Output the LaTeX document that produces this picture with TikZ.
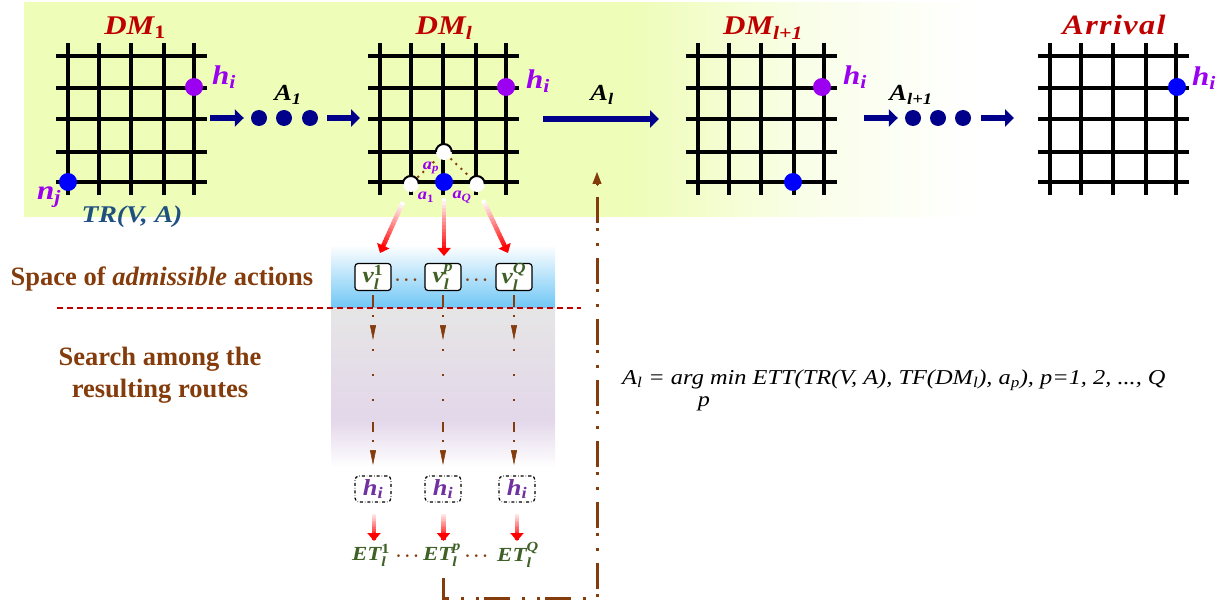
\documentclass[tikz,border=0pt]{standalone}
\usepackage{amsmath}
\usepackage{fontspec}
\setmainfont{Liberation Serif}[FakeStretch=1.15]
\newfontfamily\headfont{Liberation Serif}
\usetikzlibrary{arrows.meta,calc}
\definecolor{leaf}{HTML}{EEFDB8}
\definecolor{leafpale}{HTML}{F9FEE8}
\definecolor{navy}{HTML}{00008B}
\definecolor{rust}{HTML}{843C0C}
\definecolor{violet}{HTML}{9B00F0}
\definecolor{plum}{HTML}{7030A0}
\definecolor{moss}{HTML}{3F6026}
\definecolor{crimson}{HTML}{C00000}
\definecolor{sky}{HTML}{6EC6F5}
\definecolor{steel}{HTML}{1F5080}
\definecolor{mist}{HTML}{E3D7EA}
\pgfdeclarehorizontalshading{leaffade}{100bp}{color(0bp)=(leaf); color(57bp)=(leaf); color(66bp)=(leafpale); color(75bp)=(white); color(100bp)=(white)}
\newcommand{\bi}[1]{\text{\bfseries\itshape #1}}
\newcommand{\bn}[1]{\text{\bfseries #1}}
\newcommand{\fadearrow}[2]{%
  \foreach \s in {0,...,15}
    \draw[red!\fpeval{\s*100/15}!white, line width=4.5pt]
      ($(#1)!{\s/17}!(#2)$) -- ($(#1)!{(\s+1.2)/17}!(#2)$);
  \draw[red, line width=4.5pt, -{Triangle[width=13pt,length=8pt]}] ($(#1)!.9!(#2)$) -- (#2);
}
\begin{document}
\begin{tikzpicture}[x=1pt, y=-1pt,
title/.style ={inner sep = 0pt, text = crimson, font = \fontsize{27}{30}\selectfont},
blockarrow/.style ={navy, line width = 6.5pt, -{Triangle[width=17pt,length=9pt]}},
busdot/.style ={circle, fill = navy, inner sep = 0pt, minimum size = 16pt},
stopdot/.style ={circle, fill = blue, inner sep = 0pt, minimum size = 18pt},
goaldot/.style ={circle, fill = violet, inner sep = 0pt, minimum size = 18pt},
hole/.style ={circle, fill = white, inner sep = 0pt, minimum size = 16pt},
vbox/.style ={draw, fill = white, rounded corners = 3pt, line width = 1.2pt, minimum width = 36pt, minimum height = 27pt, inner sep = 0pt, text = moss, font = \fontsize{22}{24}\selectfont},
hbox/.style ={draw, rounded corners = 4pt, dash dot, line width = 1.2pt, minimum width = 36pt, minimum height = 26pt, inner sep = 0pt, text = plum, font = \fontsize{23}{25}\selectfont},
etnode/.style ={inner sep = 0pt, text = moss, font = \fontsize{20}{22}\selectfont},
goal/.style ={inner sep = 0pt, text = violet, font = \fontsize{27}{30}\selectfont},
act/.style ={inner sep = 0pt, text = violet, font = \fontsize{16}{18}\selectfont},
actname/.style ={inner sep = 0pt, font = \fontsize{23}{26}\selectfont},
dotsnode/.style ={inner sep = 0pt, text = rust, font = \fontsize{19}{21}\selectfont\boldmath},
thinflow/.style ={rust, line width = 2pt, dash pattern = on 12pt off 8pt on 2pt off 32pt on 2pt off 23pt on 2pt off 23pt on 2pt off 21pt on 10pt off 8pt on 2pt off 40pt},
thintip/.style ={rust, line width = .6pt, -{Triangle[width=6pt,length=15pt]}},
backflow/.style ={rust, line width = 3pt, dash pattern = on 26pt off 12pt on 3pt off 12pt on 3pt off 5pt},
heading/.style ={inner sep = 0pt, text = rust, align = center, font = \fontsize{26.5}{32}\selectfont\headfont\bfseries}]
\useasboundingbox (0,0) rectangle (1229,604);

% backgrounds
\shade[shading = leaffade] (24,3) rectangle (975,217);
\shade[top color = white, bottom color = sky] (331,245) rectangle (555,308);
\shade[top color = black!10, bottom color = mist] (331,308) rectangle (555,420);
\shade[top color = mist, bottom color = white] (331,420) rectangle (555,467);
\draw[red!75!black, line width = 1.2pt, dash pattern = on 6pt off 4pt] (57,308) -- (581,308);

% grids
\foreach \gx in {56,368,685.5,1038} {
  \foreach \gy in {56,88,119,152,182}
    \draw[line width = 4pt] (\gx,\gy) -- (\gx+151,\gy);
  \foreach \dx in {12,43,75,108,138}
    \draw[line width = 4pt] (\gx+\dx,43) -- (\gx+\dx,195);
}

\node[title] (DMa) at (135,28) {$\bi{DM}_{\bn{1}}$};
\node[title] (DMb) at (444,28) {$\bi{DM}_{\bi{l}}$};
\node[title] (DMc) at (763,28) {$\bi{DM}_{\bi{l+1}}$};
\node[title] (DMd) at (1114,25) {\fontsize{28}{30}\selectfont\addfontfeature{LetterSpace=5}\bfseries\itshape Arrival};

\node[stopdot] (nj) at (68,182) {};
\node[goaldot] (ha) at (194,87) {};
\node[goaldot] (hb) at (506,87) {};
\node[goaldot] (hc) at (822,87) {};
\node[stopdot] (hd) at (1177,87) {};
\node[stopdot] (cur) at (793,182) {};
\node[goal] at (224,77) (lha) {$\bi{h}_{\bi{i}}$};
\node[goal] at (538,81) (lhb) {$\bi{h}_{\bi{i}}$};
\node[goal] at (855,77) (lhc) {$\bi{h}_{\bi{i}}$};
\node[goal] at (1204,78) (lhd) {$\bi{h}_{\bi{i}}$};
\node[goal] at (49,197) (lnj) {$\bi{n}_{\bi{j}}$};
\node[inner sep = 0pt, text = steel, font = \fontsize{24}{26}\selectfont\bfseries\itshape] (tr) at (132,217) {TR(V, A)};

% top row actions
\node[busdot] (b1) at (259,118) {};
\node[busdot] (b2) at (284,118) {};
\node[busdot] (b3) at (310,118) {};
\node[busdot] (b4) at (913,118) {};
\node[busdot] (b5) at (938,118) {};
\node[busdot] (b6) at (963,118) {};
\coordinate (ga) at (210,118);
\coordinate (gb) at (360,118);
\coordinate (gc) at (543,119);
\coordinate (gd) at (659,119);
\coordinate (ge) at (864,118);
\coordinate (gf) at (1014,118);
\draw[blockarrow, shorten >=7pt] (ga) -- (b1.west);
\draw[blockarrow, shorten <=9pt] (b3.east) -- (gb);
\draw[blockarrow] (gc) -- (gd);
\draw[blockarrow, shorten >=7pt] (ge) -- (b4.west);
\draw[blockarrow, shorten <=10pt] (b6.east) -- (gf);
\node[actname] (Aa) at (288,95) {$\bi{A}_{\bi{1}}$};
\node[actname] (Ab) at (602,95) {$\bi{A}_{\bi{l}}$};
\node[actname] (Ac) at (911,95) {$\bi{A}_{\bi{l+1}}$};

% neighbours of the current node
\node[hole] (na) at (411,184) {};
\node[hole] (nb) at (444,152) {};
\node[hole] (nc) at (477,184) {};
\foreach \n in {na,nb,nc}
  \draw[line width = 2pt] (\n.west) arc (180:0:8pt);
\node[stopdot] (now) at (444,182) {};
\draw[rust, line width = 2pt, dash pattern = on 2pt off 5pt, shorten <=1pt, shorten >=1pt] (na.north east) -- (nb.south west);
\draw[rust, line width = 2pt, dash pattern = on 2pt off 5pt, shorten <=1pt, shorten >=1pt] (nb.south east) -- (nc.north west);
\node[act] (ap) at (431,168) {$\bi{a}_{\bi{p}}$};
\node[act] (a1) at (426,197) {$\bi{a}_{\bn{1}}$};
\node[act] (aQ) at (462,197) {$\bi{a}_{\bi{Q}}$};

% admissible actions
\node[vbox] (va) at (373,277) {$\bi{v}_{\bi{l}}^{\bn{1}}$};
\node[vbox] (vb) at (443,277) {$\bi{v}_{\bi{l}}^{\bi{p}}$};
\node[vbox] (vc) at (514,277) {$\bi{v}_{\bi{l}}^{\bi{Q}}$};
\node[dotsnode] (vd1) at (408,280) {$\cdots$};
\node[dotsnode] (vd2) at (478,280) {$\cdots$};
\coordinate (sa) at (403,202);
\coordinate (ea) at (380,253);
\coordinate (sb) at (444,198);
\coordinate (eb) at (444,256);
\coordinate (sc) at (483,200);
\coordinate (ec) at (508,253);
\fadearrow{sa}{ea}
\fadearrow{sb}{eb}
\fadearrow{sc}{ec}

% resulting routes
\node[hbox] (ha1) at (373,489) {$\bi{h}_{\bi{i}}$};
\node[hbox] (hb1) at (443,489) {$\bi{h}_{\bi{i}}$};
\node[hbox] (hc1) at (517,489) {$\bi{h}_{\bi{i}}$};
\foreach \a/\b in {va/ha1,vb/hb1,vc/hc1} {
  \draw[thinflow, shorten <=4pt, shorten >=26pt] (\a.south) -- (\a.south |- \b.north);
  \draw[thintip] (\a.south |- 0,325) -- (\a.south |- 0,340);
  \draw[thintip] (\a.south |- 0,450) -- (\a.south |- 0,465);
}
\node[etnode] (eta) at (371,555) {$\bi{ET}_{\bi{l}}^{\bn{1}}$};
\node[etnode] (etb) at (442,555) {$\bi{ET}_{\bi{l}}^{\bi{p}}$};
\node[etnode] (etc) at (518,555) {$\bi{ET}_{\bi{l}}^{\bi{Q}}$};
\node[dotsnode] (ed1) at (409,556) {$\cdots$};
\node[dotsnode] (ed2) at (478,556) {$\cdots$};
\coordinate (ra) at (374,512);
\coordinate (rb) at (374,541);
\coordinate (rc) at (443.5,512);
\coordinate (rd) at (443.5,541);
\coordinate (re) at (517,512);
\coordinate (rf) at (517,541);
\fadearrow{ra}{rb}
\fadearrow{rc}{rd}
\fadearrow{re}{rf}

% feedback to the decision
\coordinate (fa) at (443,578);
\coordinate (fb) at (597,598);
\coordinate (fc) at (597,172);
\draw[backflow] (fa) |- (fb) -- (fc);
\draw[rust, line width = 1pt, -{Triangle[width=9pt,length=12pt]}] (597,186) -- (fc);

\node[heading] (space) at (162,279) {Space of \textit{admissible} actions};
\node[heading] (search) at (160,375) {Search among the\\resulting routes};

\node[inner sep = 0pt, anchor = west, font = \fontsize{21.2}{24}\selectfont\itshape] (rule) at (622,380)
  {A\textsubscript{l} = arg min ETT(TR(V, A), TF(DM\textsubscript{l}), a\textsubscript{p}), p=1, 2, ..., Q};
\node[inner sep = 0pt, font = \fontsize{21}{24}\selectfont\itshape] (under) at (704,404) {p};
\end{tikzpicture}
\end{document}
